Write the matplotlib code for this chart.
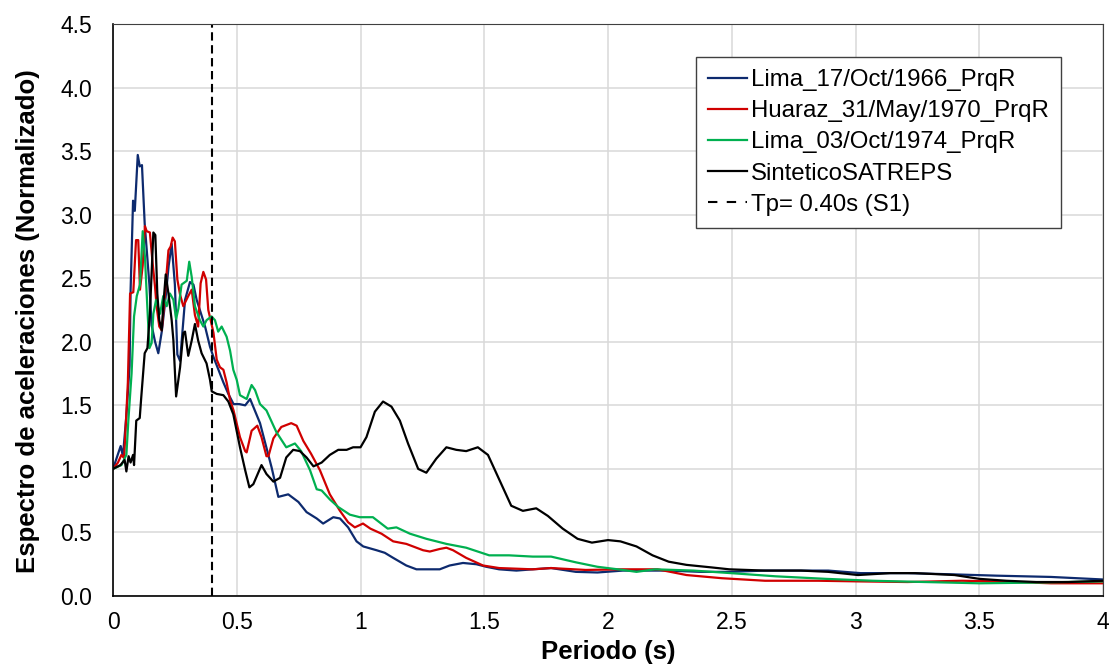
import matplotlib
matplotlib.use("Agg")
import matplotlib.pyplot as plt
from matplotlib.ticker import FuncFormatter

plt.rcParams['font.family'] = ['Liberation Sans', 'DejaVu Sans']

# Lima_17/Oct/1966_PrqR
t_lima66 = [0, 0.031, 0.04, 0.054, 0.067, 0.071, 0.081, 0.088, 0.10, 0.108, 0.117, 0.128,
            0.136, 0.147, 0.156, 0.17, 0.183, 0.197, 0.21, 0.225, 0.237, 0.25, 0.26, 0.271,
            0.291, 0.311, 0.325, 0.338, 0.351, 0.372, 0.392, 0.406, 0.426, 0.446, 0.466,
            0.487, 0.51, 0.534, 0.554, 0.594, 0.641, 0.668, 0.708, 0.749, 0.782, 0.823,
            0.849, 0.89, 0.917, 0.95, 0.984, 1.011, 1.065, 1.098, 1.132, 1.185, 1.226, 1.28,
            1.32, 1.36, 1.414, 1.468, 1.508, 1.56, 1.63, 1.696, 1.77, 1.87, 1.957, 2.06,
            2.245, 2.375, 2.49, 2.634, 2.89, 3.02, 3.21, 3.40, 3.57, 3.79, 4.0]
sa_lima66 = [1.0, 1.18, 1.10, 1.42, 1.81, 2.40, 3.11, 3.03, 3.47, 3.38, 3.39, 2.93,
             2.73, 2.45, 2.13, 2.0, 1.91, 2.08, 2.3, 2.6, 2.77, 2.45, 1.90, 1.85,
             2.33, 2.47, 2.45, 2.33, 2.25, 2.12, 1.96, 1.88, 1.78, 1.68, 1.59,
             1.51, 1.51, 1.50, 1.55, 1.36, 1.01, 0.78, 0.80, 0.74, 0.66, 0.61,
             0.57, 0.62, 0.61, 0.54, 0.43, 0.39, 0.36, 0.34, 0.30, 0.24, 0.21, 0.21,
             0.21, 0.24, 0.26, 0.25, 0.23, 0.21, 0.20, 0.21, 0.22, 0.19, 0.185, 0.20,
             0.20, 0.19, 0.19, 0.20, 0.20, 0.18, 0.18, 0.17, 0.16, 0.15, 0.13]

# Huaraz_31/May/1970_PrqR
t_huaraz = [0, 0.02, 0.034, 0.045, 0.0525, 0.06, 0.069, 0.082, 0.093, 0.102, 0.109, 0.12,
            0.129, 0.136, 0.149, 0.16, 0.17, 0.176, 0.187, 0.197, 0.21, 0.224, 0.233, 0.241,
            0.25, 0.26, 0.271, 0.284, 0.304, 0.318, 0.331, 0.344, 0.354, 0.365, 0.376, 0.385,
            0.398, 0.406, 0.419, 0.432, 0.446, 0.459, 0.473, 0.487, 0.513, 0.534, 0.54, 0.56,
            0.583, 0.60, 0.62, 0.628, 0.648, 0.68, 0.72, 0.742, 0.769, 0.80, 0.836, 0.876,
            0.917, 0.95, 0.977, 1.01, 1.04, 1.085, 1.132, 1.185, 1.253, 1.28, 1.32, 1.347,
            1.374, 1.427, 1.495, 1.56, 1.696, 1.77, 1.91, 2.06, 2.2, 2.317, 2.46, 2.634,
            2.85, 3.01, 3.21, 3.43, 3.57, 3.79, 4.0]
sa_huaraz = [1.0, 1.05, 1.11, 1.085, 1.38, 1.68, 2.38, 2.39, 2.80, 2.80, 2.41, 2.6,
             2.91, 2.87, 2.86, 2.62, 2.43, 2.28, 2.12, 2.09, 2.38, 2.72, 2.75, 2.82,
             2.79, 2.49, 2.37, 2.28, 2.36, 2.41, 2.21, 2.12, 2.46, 2.55, 2.49, 2.25,
             2.14, 2.07, 1.86, 1.80, 1.78, 1.68, 1.54, 1.46, 1.25, 1.14, 1.13, 1.30,
             1.34, 1.25, 1.10, 1.10, 1.24, 1.33, 1.36, 1.34, 1.22, 1.12, 0.99, 0.80,
             0.67, 0.58, 0.54, 0.57, 0.53, 0.49, 0.43, 0.41, 0.36, 0.35, 0.37, 0.38,
             0.36, 0.30, 0.24, 0.22, 0.21, 0.22, 0.205, 0.21, 0.21, 0.165, 0.14, 0.12,
             0.12, 0.115, 0.11, 0.12, 0.115, 0.10, 0.10]

# Lima_03/Oct/1974_PrqR
t_lima74 = [0, 0.034, 0.054, 0.062, 0.075, 0.085, 0.096, 0.109, 0.12, 0.129, 0.136, 0.147,
            0.156, 0.163, 0.174, 0.19, 0.203, 0.217, 0.23, 0.244, 0.255, 0.264, 0.277, 0.298,
            0.308, 0.318, 0.331, 0.351, 0.365, 0.378, 0.398, 0.412, 0.425, 0.439, 0.459,
            0.473, 0.486, 0.5, 0.513, 0.54, 0.56, 0.574, 0.594, 0.62, 0.66, 0.70, 0.735,
            0.76, 0.796, 0.823, 0.843, 0.876, 0.91, 0.957, 0.997, 1.05, 1.11, 1.145, 1.20,
            1.266, 1.347, 1.427, 1.52, 1.60, 1.696, 1.77, 1.87, 1.957, 2.06, 2.115, 2.19,
            2.346, 2.533, 2.677, 2.88, 3.07, 3.28, 3.50, 3.71, 4.0]
sa_lima74 = [1.0, 1.03, 1.11, 1.38, 1.75, 2.2, 2.36, 2.45, 2.87, 2.67, 2.38, 1.95,
             1.99, 2.22, 2.33, 2.22, 2.36, 2.28, 2.38, 2.33, 2.18, 2.26, 2.45, 2.48,
             2.63, 2.51, 2.28, 2.17, 2.12, 2.17, 2.20, 2.17, 2.08, 2.12, 2.04,
             1.93, 1.78, 1.70, 1.58, 1.55, 1.66, 1.62, 1.51, 1.46, 1.29, 1.17, 1.20,
             1.14, 0.99, 0.84, 0.83, 0.76, 0.70, 0.64, 0.62, 0.62, 0.53, 0.54, 0.49,
             0.45, 0.41, 0.38, 0.32, 0.32, 0.31, 0.31, 0.265, 0.23, 0.205, 0.19, 0.21,
             0.20, 0.175, 0.155, 0.135, 0.12, 0.11, 0.10, 0.105, 0.115]

# SinteticoSATREPS
t_sint = [0, 0.03, 0.047, 0.054, 0.063, 0.071, 0.081, 0.085, 0.094, 0.108, 0.114, 0.128,
          0.139, 0.149, 0.163, 0.171, 0.179, 0.187, 0.197, 0.203, 0.213, 0.224, 0.237,
          0.244, 0.255, 0.271, 0.284, 0.291, 0.304, 0.318, 0.331, 0.344, 0.358, 0.378,
          0.392, 0.399, 0.419, 0.446, 0.466, 0.486, 0.513, 0.534, 0.551, 0.567, 0.60,
          0.62, 0.648, 0.675, 0.70, 0.728, 0.755, 0.782, 0.81, 0.843, 0.876, 0.91, 0.944,
          0.97, 1.0, 1.024, 1.058, 1.091, 1.125, 1.159, 1.192, 1.233, 1.266, 1.306, 1.347,
          1.387, 1.427, 1.474, 1.515, 1.562, 1.609, 1.656, 1.71, 1.757, 1.817, 1.877,
          1.935, 2.0, 2.05, 2.115, 2.18, 2.245, 2.317, 2.418, 2.49, 2.634, 2.78, 2.89,
          3.01, 3.14, 3.24, 3.40, 3.50, 3.61, 3.73, 3.86, 4.0]
sa_sint = [1.0, 1.03, 1.07, 0.98, 1.10, 1.05, 1.11, 1.03, 1.38, 1.40, 1.56, 1.91,
           1.95, 2.22, 2.86, 2.84, 2.38, 2.17, 2.09, 2.28, 2.53, 2.38, 2.17,
           2.01, 1.57, 1.80, 2.07, 2.08, 1.89, 2.01, 2.14, 2.01, 1.91, 1.83,
           1.70, 1.61, 1.59, 1.58, 1.53, 1.43, 1.17, 0.99, 0.855, 0.88, 1.03,
           0.96, 0.90, 0.93, 1.09, 1.15, 1.14, 1.09, 1.02, 1.05, 1.11, 1.15, 1.15,
           1.17, 1.17, 1.25, 1.45, 1.53, 1.49, 1.38, 1.20, 1.0, 0.97, 1.08, 1.17,
           1.15, 1.14, 1.17, 1.11, 0.91, 0.71, 0.67, 0.69, 0.63, 0.53, 0.45,
           0.42, 0.44, 0.43, 0.39, 0.32, 0.27, 0.245, 0.225, 0.21, 0.20, 0.20, 0.19,
           0.165, 0.18, 0.18, 0.165, 0.135, 0.12, 0.11, 0.11, 0.12]

tp = 0.40
x_ticks = [0, 0.5, 1, 1.5, 2, 2.5, 3, 3.5, 4]
y_ticks = [0.0, 0.5, 1.0, 1.5, 2.0, 2.5, 3.0, 3.5, 4.0, 4.5]

fig = plt.figure(figsize=(11.09, 6.64), dpi=100)
ax = fig.add_axes([0.1019, 0.1024, 0.8927, 0.8614])

lw = 1.6
ax.plot(t_lima66, sa_lima66, color='#0d2a6e', lw=lw, label='Lima_17/Oct/1966_PrqR')
ax.plot(t_huaraz, sa_huaraz, color='#d00000', lw=lw, label='Huaraz_31/May/1970_PrqR')
ax.plot(t_lima74, sa_lima74, color='#00b050', lw=lw, label='Lima_03/Oct/1974_PrqR')
ax.plot(t_sint, sa_sint, color='black', lw=lw, label='SinteticoSATREPS')
ax.axvline(tp, color='black', lw=1.5, ls=(0, (4, 2.2)), label='Tp= 0.40s (S1)')

ax.set_xlim(0, 4)
ax.set_ylim(0, 4.5)
ax.set_xticks(x_ticks)
ax.set_yticks(y_ticks)
ax.xaxis.set_major_formatter(FuncFormatter(lambda v, p: f'{v:g}'))
ax.yaxis.set_major_formatter(FuncFormatter(lambda v, p: f'{v:.1f}'))
ax.tick_params(length=0, labelsize=16.5)
ax.tick_params(axis='x', pad=11)
ax.tick_params(axis='y', pad=15)
ax.grid(True, color='#d9d9d9', lw=1.1)
ax.set_axisbelow(True)
for s in ['top', 'right']:
    ax.spines[s].set_color('#404040')
for s in ['left', 'bottom']:
    ax.spines[s].set_color('black')
    ax.spines[s].set_linewidth(1.2)

ax.set_xlabel('Periodo (s)', fontsize=18.5, fontweight='bold', va='baseline')
ax.xaxis.set_label_coords(0.5, -0.110)
ax.set_ylabel('Espectro de aceleraciones (Normalizado)', fontsize=18.5, fontweight='bold',
              va='center', ha='center')
ax.yaxis.set_label_coords(-0.086, 0.48)

leg = ax.legend(loc='upper left', bbox_to_anchor=(0.589, 0.942), borderaxespad=0,
                fontsize=17.3, frameon=True, fancybox=False, edgecolor='#404040',
                framealpha=1, handlelength=1.6, handletextpad=0.2, labelspacing=0.38,
                borderpad=0.5)
leg.get_frame().set_linewidth(1.0)
leg.get_lines()[-1].set_linestyle((0, (4.5, 4.5)))

fig.savefig('out.png', dpi=100)
